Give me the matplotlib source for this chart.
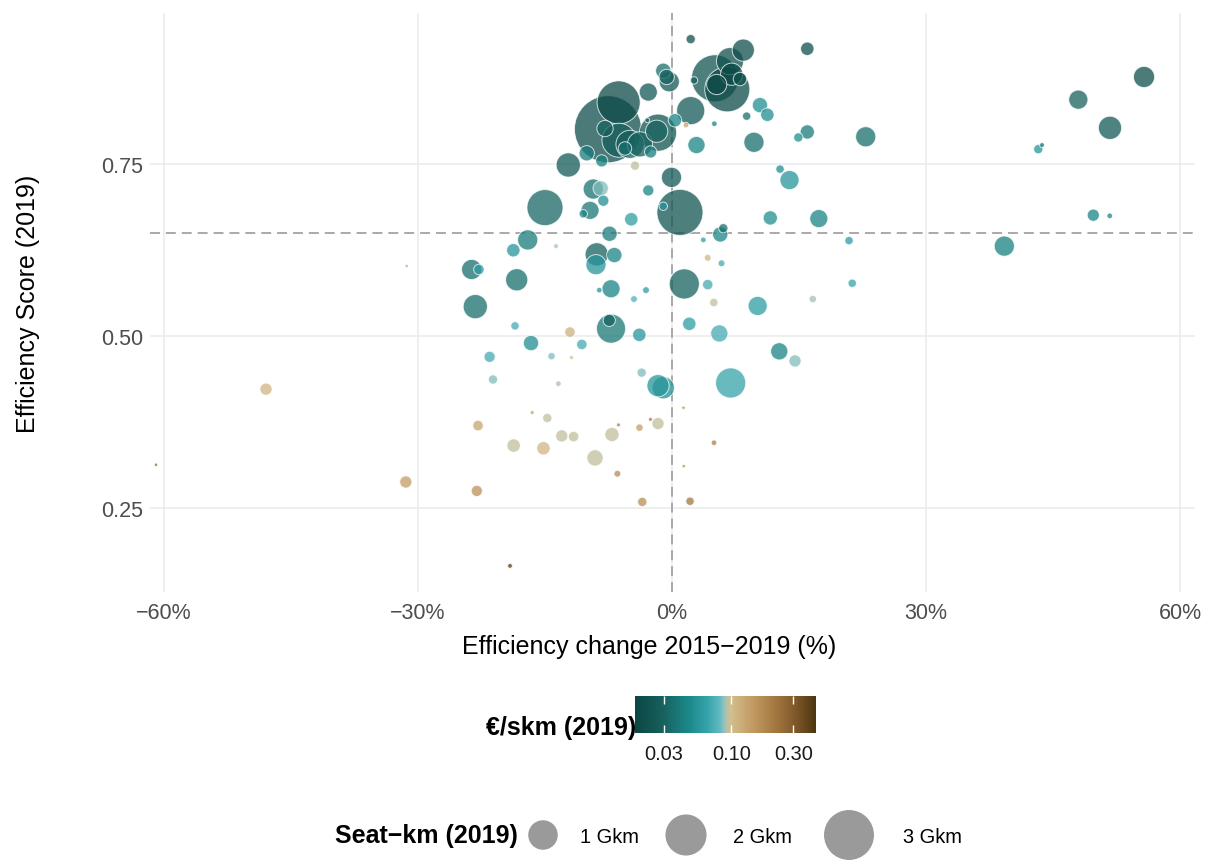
import numpy as np
import matplotlib
matplotlib.use("Agg")
import matplotlib.pyplot as plt
from matplotlib.colors import LinearSegmentedColormap, LogNorm
from matplotlib.colorbar import ColorbarBase
from matplotlib.ticker import NullLocator

plt.rcParams['font.family'] = ['Liberation Sans', 'DejaVu Sans']

# efficiency change 2015-2019 (%)
eff_change = [2.21, 15.98, 8.42, 5.08, 6.53, 6.85, 7.05, 5.28, 8.03, 2.60,
              -1.03, -0.63, -0.32, -2.80, 2.21, 10.39, 11.26, 8.82, 5.00, 1.65,
              0.35, -7.56, -6.30, -1.65, -1.81, -2.92, -7.91, -6.26, -4.96, -5.55,
              -3.78, -2.52, -10.07, -8.30, -12.25, 2.89, 9.68, 14.92, 15.98, -4.37,
              -0.06, -2.80, 0.94, -1.03, -15.00, -9.30, -8.42, -8.11, -9.68, -10.48,
              -4.81, -7.38, -17.04, -13.70, 6.06, 5.70, 3.70, 11.61, 17.34, 12.76,
              13.88, 22.88, 20.91, 21.29, 16.63, 55.75, 47.99, 51.73, 43.26, 43.70,
              49.76, 51.70, 39.25, 4.22, 5.85, 1.45, 4.22, 4.94, 10.12, 2.04,
              5.59, 12.67, 14.53, 6.93, -8.89, -8.98, -6.81, -18.74, -23.66, -22.80,
              -31.33, -18.34, -7.20, -8.59, -3.07, -4.49, -23.23, -18.54, -7.20, -7.41,
              -3.86, -12.05, -16.65, -10.65, -21.54, -14.23, -11.87, -3.58, -1.65, -1.03,
              -21.14, -13.42, 1.36, -16.51, -14.73, -22.91, -6.32, -3.84, -2.54, -1.65,
              4.96, -13.02, -11.62, -7.09, -18.70, -15.18, -9.09, -47.95, -60.94, -31.44,
              -23.05, -19.13, -3.51, 2.13, -6.45, 1.39]

# efficiency score 2019
eff_score = [0.932, 0.918, 0.916, 0.875, 0.859, 0.900, 0.881, 0.866, 0.874, 0.872,
             0.886, 0.877, 0.870, 0.855, 0.828, 0.836, 0.822, 0.820, 0.809, 0.807,
             0.814, 0.801, 0.840, 0.796, 0.798, 0.814, 0.802, 0.785, 0.779, 0.773,
             0.779, 0.768, 0.766, 0.755, 0.749, 0.778, 0.782, 0.789, 0.797, 0.748,
             0.731, 0.712, 0.680, 0.689, 0.687, 0.714, 0.715, 0.697, 0.683, 0.678,
             0.670, 0.649, 0.640, 0.631, 0.657, 0.648, 0.640, 0.672, 0.671, 0.743,
             0.727, 0.790, 0.639, 0.577, 0.554, 0.877, 0.844, 0.803, 0.772, 0.778,
             0.676, 0.675, 0.631, 0.614, 0.606, 0.576, 0.575, 0.549, 0.544, 0.518,
             0.504, 0.478, 0.464, 0.432, 0.619, 0.604, 0.618, 0.625, 0.597, 0.597,
             0.602, 0.582, 0.569, 0.567, 0.567, 0.554, 0.543, 0.515, 0.511, 0.523,
             0.502, 0.506, 0.490, 0.488, 0.470, 0.471, 0.469, 0.447, 0.428, 0.425,
             0.437, 0.431, 0.396, 0.389, 0.381, 0.370, 0.371, 0.367, 0.379, 0.373,
             0.345, 0.355, 0.354, 0.357, 0.341, 0.337, 0.323, 0.423, 0.313, 0.288,
             0.275, 0.166, 0.259, 0.260, 0.300, 0.311]

# seat-km 2019 (Gkm)
seat_km = [0.10, 0.22, 0.62, 2.82, 2.58, 0.93, 0.62, 0.51, 0.22, 0.06,
           0.29, 0.29, 0.51, 0.41, 1.00, 0.29, 0.22, 0.08, 0.03, 0.03,
           0.22, 5.73, 2.36, 1.75, 0.62, 0.02, 0.33, 1.47, 1.00, 0.22,
           0.80, 0.18, 0.29, 0.18, 0.74, 0.37, 0.51, 0.10, 0.25, 0.10,
           0.51, 0.15, 2.70, 0.08, 1.65, 0.51, 0.29, 0.15, 0.41, 0.08,
           0.22, 0.29, 0.51, 0.02, 0.10, 0.29, 0.03, 0.25, 0.41, 0.08,
           0.46, 0.51, 0.08, 0.08, 0.06, 0.56, 0.46, 0.68, 0.10, 0.02,
           0.18, 0.03, 0.51, 0.05, 0.05, 1.15, 0.13, 0.08, 0.46, 0.22,
           0.37, 0.37, 0.18, 1.15, 0.68, 0.51, 0.29, 0.22, 0.51, 0.13,
           0.003, 0.62, 0.41, 0.03, 0.05, 0.05, 0.74, 0.08, 1.07, 0.18,
           0.22, 0.13, 0.29, 0.13, 0.15, 0.06, 0.01, 0.10, 0.62, 0.62,
           0.10, 0.03, 0.005, 0.01, 0.10, 0.13, 0.01, 0.06, 0.01, 0.18,
           0.03, 0.18, 0.13, 0.25, 0.22, 0.22, 0.33, 0.18, 0.005, 0.18,
           0.15, 0.02, 0.10, 0.08, 0.05, 0.005]

# cost per seat-km 2019 (EUR)
cost_skm = [0.022, 0.022, 0.022, 0.024, 0.020, 0.022, 0.020, 0.020, 0.022, 0.030,
            0.035, 0.030, 0.025, 0.025, 0.026, 0.050, 0.050, 0.035, 0.045, 0.130,
            0.045, 0.021, 0.020, 0.023, 0.030, 0.035, 0.030, 0.028, 0.030, 0.035,
            0.030, 0.040, 0.040, 0.042, 0.026, 0.045, 0.035, 0.050, 0.040, 0.095,
            0.025, 0.045, 0.024, 0.055, 0.032, 0.036, 0.085, 0.050, 0.038, 0.045,
            0.060, 0.040, 0.040, 0.090, 0.035, 0.045, 0.060, 0.050, 0.045, 0.050,
            0.055, 0.035, 0.060, 0.065, 0.090, 0.022, 0.030, 0.026, 0.055, 0.035,
            0.045, 0.045, 0.042, 0.110, 0.070, 0.030, 0.070, 0.095, 0.060, 0.060,
            0.070, 0.045, 0.085, 0.065, 0.030, 0.055, 0.045, 0.055, 0.035, 0.060,
            0.140, 0.035, 0.045, 0.055, 0.060, 0.075, 0.035, 0.070, 0.038, 0.030,
            0.055, 0.115, 0.050, 0.070, 0.070, 0.085, 0.100, 0.085, 0.055, 0.050,
            0.085, 0.090, 0.170, 0.140, 0.095, 0.130, 0.200, 0.140, 0.220, 0.095,
            0.200, 0.095, 0.095, 0.095, 0.095, 0.110, 0.095, 0.110, 0.250, 0.140,
            0.160, 0.400, 0.170, 0.220, 0.170, 0.170]

mean_score = 0.65
x_ticks = [-60, -30, 0, 30, 60]
x_tick_labels = ['\u221260%', '\u221230%', '0%', '30%', '60%']
y_ticks = [0.25, 0.50, 0.75]
y_tick_labels = ['0.25', '0.50', '0.75']
cost_ticks = [0.03, 0.10, 0.30]
cost_tick_labels = ['0.03', '0.10', '0.30']
legend_sizes = [1, 2, 3]
legend_labels = ['1 Gkm', '2 Gkm', '3 Gkm']

W, H = 1207, 862

cmap = LinearSegmentedColormap.from_list('teal_brown', [
    (0.00, '#0a4643'), (0.15, '#17605d'), (0.30, '#1b8a8c'), (0.40, '#35a3aa'),
    (0.47, '#64b9c2'), (0.50, '#a8c3b3'), (0.53, '#d3be8d'), (0.65, '#c29a62'),
    (0.78, '#a2763f'), (0.90, '#7a5427'), (1.00, '#4d3510')])
norm = LogNorm(vmin=0.018, vmax=0.45)


def bubble(g):
    return 406 * np.asarray(g, dtype=float) + 4


fig = plt.figure(figsize=(W / 100, H / 100), dpi=100)
ax = fig.add_axes([150 / W, 1 - 593 / H, 1045 / W, 579 / H])

order = np.argsort(seat_km)[::-1]
x = np.array(eff_change)[order]
y = np.array(eff_score)[order]
s = bubble(np.array(seat_km)[order])
c = np.array(cost_skm)[order]

ax.axhline(mean_score, color='#a3a3a3', lw=1.3, ls=(0, (5.5, 3.3)), zorder=1)
ax.axvline(0, color='#a3a3a3', lw=1.3, ls=(0, (5.5, 3.3)), zorder=1)
ax.scatter(x, y, s=s, c=c, cmap=cmap, norm=norm, alpha=0.75,
           edgecolors='white', linewidths=0.7, zorder=2)

ax.set_xlim(-61.65, 61.77)
ax.set_ylim(0.128, 0.970)
ax.set_xticks(x_ticks)
ax.set_xticklabels(x_tick_labels)
ax.set_yticks(y_ticks)
ax.set_yticklabels(y_tick_labels)
ax.grid(True, color='#ebebeb', lw=1.1, zorder=0)
ax.set_axisbelow(True)
for sp in ax.spines.values():
    sp.set_visible(False)
ax.tick_params(length=0, labelsize=15.5, labelcolor='#4d4d4d')
ax.tick_params(axis='x', pad=7)
ax.tick_params(axis='y', pad=5)
ax.set_xlabel('Efficiency change 2015\u22122019 (%)', fontsize=18)
ax.set_ylabel('Efficiency Score (2019)', fontsize=18)
ax.xaxis.set_label_coords((649.5 - 150) / 1045, -(647 - 593) / 579)
ax.yaxis.set_label_coords(-(150 - 28) / 1045, 0.5)
ax.xaxis.label.set_va('center')
ax.yaxis.label.set_va('center')

# colour legend
cax = fig.add_axes([635 / W, 1 - 734 / H, 181 / W, 37 / H])
cb = ColorbarBase(cax, cmap=cmap, norm=norm, orientation='horizontal')
cb.outline.set_visible(False)
cb.set_ticks(cost_ticks)
cb.set_ticklabels(cost_tick_labels)
cax.xaxis.set_minor_locator(NullLocator())
cax.tick_params(axis='x', which='major', direction='in', length=6, width=1,
                color='white', top=True, bottom=True, labelsize=14.4,
                labelcolor='#1a1a1a', pad=8)
fig.text(636 / W, 1 - 728 / H, '\u20ac/skm (2019)', ha='right', va='center',
         fontsize=18, fontweight='bold')

# size legend
lax = fig.add_axes([0, 0, 1, 1])
lax.set_xlim(0, W)
lax.set_ylim(H, 0)
lax.axis('off')
key_x = [543, 686, 849]
lax.scatter(key_x, [836] * 3, s=bubble(legend_sizes), color='#9a9a9a')
for kx, lab in zip([580, 733, 903], legend_labels):
    lax.text(kx, 838, lab, ha='left', va='center', fontsize=14.4)
lax.text(518, 836, 'Seat\u2212km (2019)', ha='right', va='center',
         fontsize=18, fontweight='bold')

fig.savefig('out.png', dpi=100)
